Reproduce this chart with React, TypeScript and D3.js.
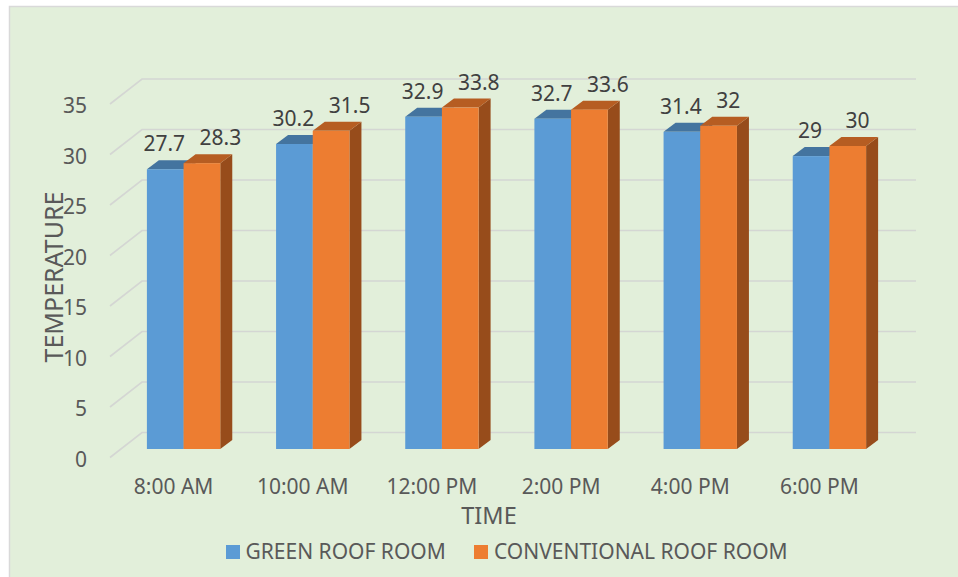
import React from "react";
import { scaleBand, scaleLinear } from "d3";

const width = 958;
const height = 577;

const categories = ["8:00 AM", "10:00 AM", "12:00 PM", "2:00 PM", "4:00 PM", "6:00 PM"];
const greenRoof = [27.7, 30.2, 32.9, 32.7, 31.4, 29];
const conventionalRoof = [28.3, 31.5, 33.8, 33.6, 32, 30];
const seriesNames = ["GREEN ROOF ROOM", "CONVENTIONAL ROOF ROOM"];
const yTicks = [0, 5, 10, 15, 20, 25, 30, 35];

const colors = [
  { front: "#5B9BD5", top: "#44749F", side: "#3A6690" },
  { front: "#ED7D31", top: "#B65D22", side: "#974C1B" },
];

// oblique 3d offsets
const wall = { dx: 32, dy: -25 };
const shift = { dx: 10, dy: -8.5 };
const depth = { dx: 12, dy: -9 };

const x = scaleBand<string>().domain(categories).range([109, 884]).paddingInner(0.432).paddingOuter(0.216);
const xSub = scaleBand<number>().domain([0, 1]).range([0, x.bandwidth()]);
const y = scaleLinear().domain([0, 35]).range([457.5, 104]);

const series = [greenRoof, conventionalRoof];

function Bar({ cat, value, s }: { cat: string; value: number; s: number }) {
  const w = xSub.bandwidth();
  const x0 = (x(cat) as number) + (xSub(s) as number) + shift.dx;
  const x1 = x0 + w;
  const yt = y(value) + shift.dy;
  const yb = y(0) + shift.dy;
  const c = colors[s];
  const top = `M${x0},${yt}L${x1},${yt}L${x1 + depth.dx},${yt + depth.dy}L${x0 + depth.dx},${yt + depth.dy}Z`;
  const side = `M${x1},${yt}L${x1 + depth.dx},${yt + depth.dy}L${x1 + depth.dx},${yb + depth.dy}L${x1},${yb}Z`;
  const label = String(value);
  return (
    <g>
      <path d={side} fill={c.side} />
      <path d={top} fill={c.top} />
      <rect x={x0} y={yt} width={w} height={yb - yt} fill={c.front} />
      <text
        x={s === 0 ? x0 + w / 2 - 1 : x0 + 16}
        y={yt - 18}
        textAnchor={s === 0 ? "middle" : "start"}
        fontSize={21}
        fill="#404040"
      >
        {label}
      </text>
    </g>
  );
}

export default function App() {
  return (
    <svg
      width={width}
      height={height}
      style={{ position: "absolute", left: 0, top: 0 }}
      fontFamily="'Noto Sans', sans-serif"
    >
      <rect x={0} y={0} width={width} height={height} fill="#ffffff" />
      <rect x={9.5} y={6.5} width={width} height={height} fill="#E2EFDA" stroke="#D9D9D9" strokeWidth={1.5} />

      {/* gridlines: floor diagonal + back wall */}
      {yTicks.map((t) => (
        <path
          key={t}
          d={`M110,${y(t)}L${110 + wall.dx},${y(t) + wall.dy}L916,${y(t) + wall.dy}`}
          fill="none"
          stroke="#D4D6D3"
          strokeWidth={1.6}
        />
      ))}

      {/* y tick labels */}
      {yTicks.map((t) => (
        <text key={t} x={87} y={y(t) + 9} textAnchor="end" fontSize={21} fill="#595959">
          {t}
        </text>
      ))}

      {/* bars */}
      {categories.map((cat, i) => (
        <g key={cat}>
          {series.map((vals, s) => (
            <Bar key={s} cat={cat} value={vals[i]} s={s} />
          ))}
        </g>
      ))}

      {/* x tick labels */}
      {categories.map((cat) => (
        <text
          key={cat}
          x={(x(cat) as number) + x.bandwidth() / 2}
          y={494}
          textAnchor="middle"
          fontSize={21}
          fill="#595959"
        >
          {cat}
        </text>
      ))}

      {/* axis titles */}
      <text x={489} y={524} textAnchor="middle" fontSize={23.5} fill="#595959">
        TIME
      </text>
      <text transform="translate(63,277) rotate(-90)" textAnchor="middle" fontSize={25} fill="#595959">
        TEMPERATURE
      </text>

      {/* legend */}
      <rect x={226} y={545} width={14} height={14} fill={colors[0].front} />
      <text x={245.5} y={559} fontSize={21} fill="#595959">
        {seriesNames[0]}
      </text>
      <rect x={474} y={545} width={14} height={14} fill={colors[1].front} />
      <text x={494} y={559} fontSize={21} fill="#595959">
        {seriesNames[1]}
      </text>
    </svg>
  );
}
